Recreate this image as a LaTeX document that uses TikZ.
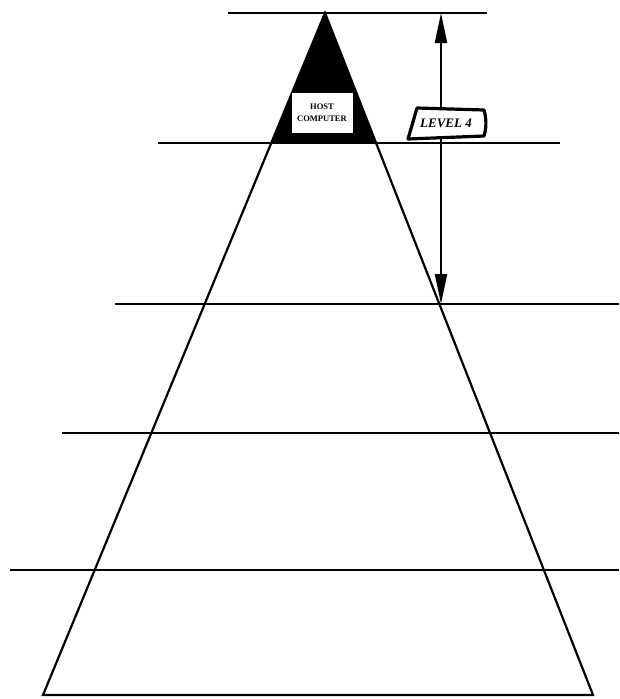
\documentclass[tikz,border=0pt]{standalone}
\usepackage{fontspec}
\setmainfont{Liberation Serif}
\usetikzlibrary{arrows.meta}
\begin{document}
\begin{tikzpicture}[x=1pt,y=-1pt,
  level/.style={line width=2.5pt},
  side/.style={line width=2.2pt},
  dim/.style={line width=2.2pt,{Triangle[length=30pt,width=12pt]}-{Triangle[length=30pt,width=12pt]}}]
\useasboundingbox (0,0) rectangle (619,699);
% apex and base corners
\coordinate (apex) at (325,13);
\coordinate (bl) at (43,695);
\coordinate (br) at (593,695);
% dark host region
\fill[black] (apex) -- (271,143) -- (376,143) -- cycle;
% horizontal level lines
\draw[level] (228,13) coordinate (t1) -- (487,13) coordinate (t2);
\draw[level] (158,143) coordinate (l4a) -- (560,143) coordinate (l4b);
\draw[level] (115,304) coordinate (l3a) -- (619,304) coordinate (l3b);
\draw[level] (62,433) coordinate (l2a) -- (619,433) coordinate (l2b);
\draw[level] (10,570) coordinate (l1a) -- (619,570) coordinate (l1b);
% pyramid
\draw[side,line join=miter] (apex) -- (bl) -- (br) -- cycle;
% host computer box
\node[fill=white,draw=white,minimum width=60pt,minimum height=39pt,inner sep=0pt,
  align=center,font=\fontsize{8.5}{12}\selectfont\bfseries] (host) at (322,113) {HOST\\COMPUTER};
% dimension arrow
\coordinate (atop) at (441,13);
\coordinate (abot) at (441,304);
\draw[dim] (atop) -- (abot);
% level 4 label
\filldraw[fill=white,draw=black,line width=3.2pt,line join=round]
  (417,108) -- (484,110) .. controls (487,120) and (486,130) .. (484,136) -- (408,139) -- cycle;
\node[font=\fontsize{13}{14}\selectfont\itshape\bfseries] (lab) at (446,123) {LEVEL 4};
\end{tikzpicture}
\end{document}
